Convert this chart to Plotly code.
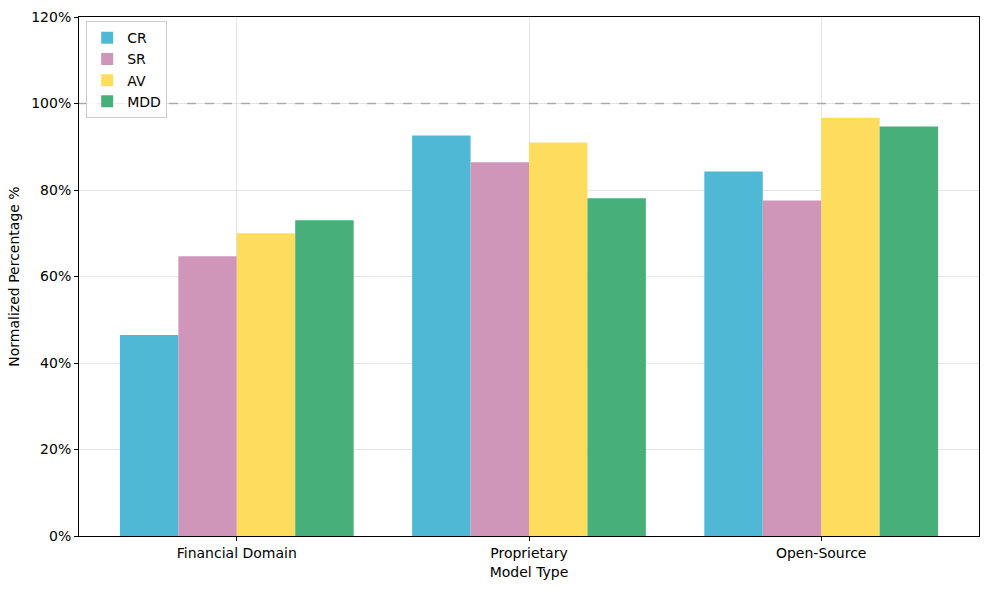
import plotly.graph_objects as go

categories = ["Financial Domain", "Proprietary", "Open-Source"]
series_names = ["CR", "SR", "AV", "MDD"]
cr = [46.5, 92.6, 84.3]
sr = [64.7, 86.4, 77.6]
av = [70.0, 91.0, 96.7]
mdd = [73.0, 78.1, 94.7]
colors = ["#4FB9D5", "#D096B9", "#FEDC5E", "#47AF7A"]
ytick_vals = [0, 20, 40, 60, 80, 100, 120]
ytick_text = ["0%", "20%", "40%", "60%", "80%", "100%", "120%"]
reference_level = 100

fig = go.Figure()
for name, vals, col in zip(series_names, [cr, sr, av, mdd], colors):
    fig.add_trace(go.Bar(name=name, x=list(range(len(categories))), y=vals,
                         marker=dict(color=col, line=dict(width=0)), width=0.2))

fig.add_shape(type="line", xref="paper", x0=0, x1=1, yref="y",
              y0=reference_level, y1=reference_level,
              line=dict(color="rgba(128,128,128,0.6)", width=1.5, dash="dash"))

fig.update_layout(
    width=989, height=589,
    margin=dict(l=79, r=9, t=15, b=53),
    paper_bgcolor="white", plot_bgcolor="white",
    barmode="group", bargap=0.2, bargroupgap=0,
    font=dict(family="DejaVu Sans", size=14, color="black"),
    legend=dict(x=0.008, y=0.992, xanchor="left", yanchor="top",
                bgcolor="rgba(255,255,255,0.8)", bordercolor="#CCCCCC", borderwidth=1,
                font=dict(size=14), tracegroupgap=0, itemwidth=30),
    showlegend=True,
)
fig.update_xaxes(
    range=[-0.54, 2.54], tickmode="array", tickvals=list(range(len(categories))),
    ticktext=categories, showline=True, linecolor="black", linewidth=1, mirror=True,
    ticks="outside", ticklen=4, tickcolor="black",
    showgrid=True, gridcolor="rgba(0,0,0,0.1)", gridwidth=1, zeroline=False,
    title=dict(text="Model Type", font=dict(size=14), standoff=7),
)
fig.update_yaxes(
    range=[0, 120], tickmode="array", tickvals=ytick_vals, ticktext=ytick_text,
    showline=True, linecolor="black", linewidth=1, mirror=True,
    ticks="outside", ticklen=4, tickcolor="black",
    showgrid=True, gridcolor="rgba(0,0,0,0.1)", gridwidth=1, zeroline=False,
    title=dict(text="Normalized Percentage %", font=dict(size=14), standoff=8),
)
fig.write_html("out.html", post_script="document.body.style.margin='0';",
               config={"displayModeBar": False})
